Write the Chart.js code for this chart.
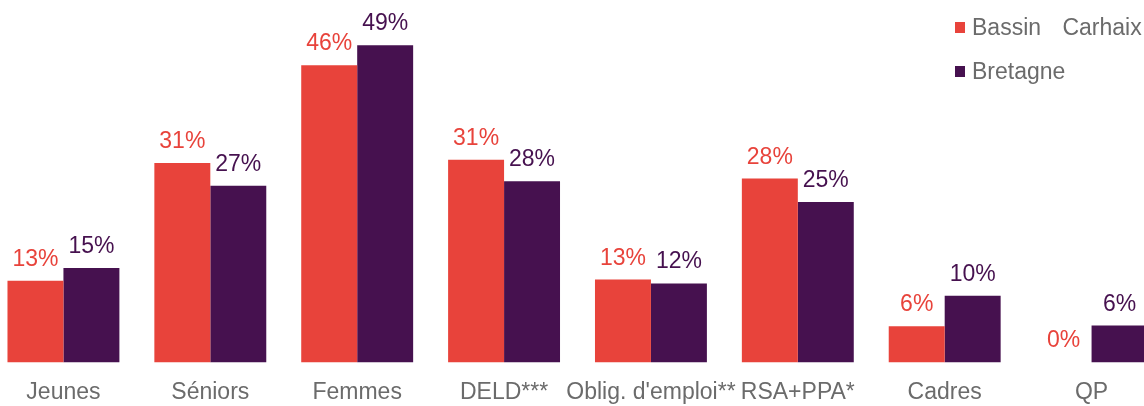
<!DOCTYPE html>
<html>
<head>
<meta charset="utf-8">
<script src="https://cdn.jsdelivr.net/npm/chart.js@4/dist/chart.umd.min.js"></script>
<style>
  html, body { margin: 0; padding: 0; background: #fff; overflow: hidden; width: 1144px; height: 406px; }
  #wrap { position: absolute; left: -10.4px; top: 0; width: 1175px; height: 422px; }
  #legend { position: absolute; left: 955px; top: 0; font-family: "Liberation Sans", Arial, sans-serif; font-size: 23px; color: #6b6b6b; }
  .item { position: absolute; left: 0; white-space: pre; word-spacing: 15px; height: 26px; line-height: 26px; }
  .sw { position: absolute; left: 0; top: 8px; width: 10px; height: 11px; }
  .txt { position: absolute; left: 17px; top: 0; }
</style>
</head>
<body>
<div id="wrap"><canvas id="c"></canvas></div>
<div id="legend"></div>
<script>
const categories = ["Jeunes", "Séniors", "Femmes", "DELD***", "Oblig. d'emploi**", "RSA+PPA*", "Cadres", "QP"];
const seriesNames = ["Bassin Carhaix", "Bretagne"];
const bassinCarhaix = [12.6, 30.8, 45.9, 31.3, 12.8, 28.4, 5.6, 0];
const bretagne = [14.6, 27.3, 49.0, 28.0, 12.2, 24.8, 10.3, 5.7];
const colors = ["#E8433B", "#46114F"];

const FONT = "'Liberation Sans', Arial, sans-serif";

const valueLabels = {
  id: 'valueLabels',
  afterDatasetsDraw(chart) {
    const ctx = chart.ctx;
    ctx.save();
    ctx.font = "23px " + FONT;
    ctx.textAlign = "center";
    ctx.textBaseline = "alphabetic";
    chart.data.datasets.forEach((ds, i) => {
      const meta = chart.getDatasetMeta(i);
      ctx.fillStyle = ds.backgroundColor;
      meta.data.forEach((el, j) => {
        ctx.fillText(Math.round(ds.data[j]) + "%", el.x, el.y - 15);
      });
    });
    ctx.restore();
  }
};

const chart = new Chart(document.getElementById('c'), {
  type: 'bar',
  data: {
    labels: categories,
    datasets: [
      { label: seriesNames[0], data: bassinCarhaix, backgroundColor: colors[0] },
      { label: seriesNames[1], data: bretagne, backgroundColor: colors[1] }
    ]
  },
  options: {
    responsive: true,
    maintainAspectRatio: false,
    animation: false,
    layout: { padding: 0 },
    datasets: { bar: { barPercentage: 1.0, categoryPercentage: 0.762 } },
    plugins: { legend: { display: false }, tooltip: { enabled: false } },
    scales: {
      x: {
        grid: { display: false, drawTicks: false },
        border: { display: false },
        ticks: {
          autoSkip: false, maxRotation: 0, minRotation: 0, padding: 16,
          color: "#6b6b6b", font: { family: FONT, size: 23 }
        }
      },
      y: { display: false, min: 0, max: 56 }
    }
  },
  plugins: [valueLabels]
});

const legend = document.getElementById('legend');
seriesNames.forEach((name, i) => {
  const it = document.createElement('div');
  it.className = 'item';
  it.style.top = (14 + i * 44) + 'px';
  it.innerHTML = '<span class="sw" style="background:' + colors[i] + '"></span><span class="txt"></span>';
  it.querySelector('.txt').textContent = name;
  legend.appendChild(it);
});
</script>
</body>
</html>
